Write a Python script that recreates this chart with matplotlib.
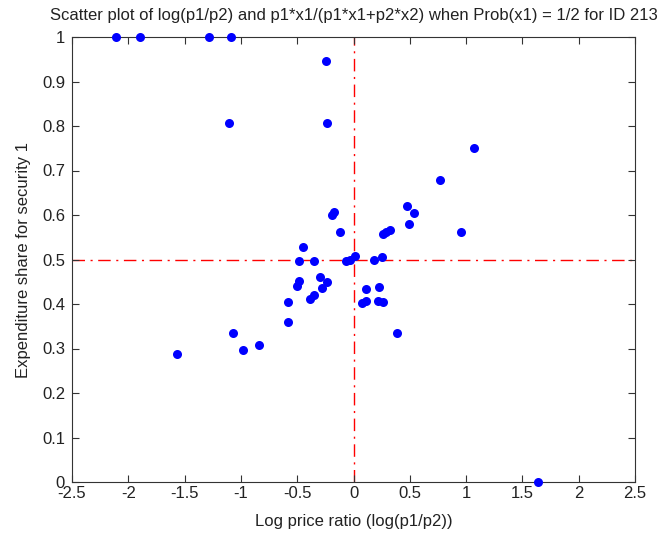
import matplotlib
matplotlib.use("Agg")
import matplotlib.pyplot as plt
import numpy as np

log_price_ratio = [
    -2.11, -1.90, -1.28, -1.09,
    -0.247, -1.11, -0.238,
    -0.19, -0.17, -0.123,
    -0.446, -0.481, -0.351,
    -0.07, -0.03, 0.01,
    0.185, 0.25,
    -0.487, -0.499,
    -0.297, -0.238, -0.282,
    -0.386, -0.348, -0.579,
    -0.579, -0.837,
    0.386,
    0.108, 0.224, 0.073, 0.111, 0.215, 0.259,
    0.765, 0.475, 0.535, 0.49, 0.957,
    0.26, 0.29, 0.32,
    1.07, 1.64,
    -1.567, -1.07, -0.98,
]
expenditure_share = [
    1.0, 1.0, 1.0, 1.0,
    0.945, 0.806, 0.806,
    0.600, 0.607, 0.562,
    0.527, 0.496, 0.496,
    0.497, 0.500, 0.508,
    0.498, 0.505,
    0.452, 0.440,
    0.460, 0.450, 0.435,
    0.411, 0.420, 0.404,
    0.359, 0.307,
    0.334,
    0.434, 0.439, 0.402, 0.407, 0.407, 0.404,
    0.679, 0.621, 0.604, 0.580, 0.562,
    0.557, 0.561, 0.566,
    0.750, 0.0,
    0.288, 0.335, 0.297,
]

x_ticks = [-2.5, -2, -1.5, -1, -0.5, 0, 0.5, 1, 1.5, 2, 2.5]
x_tick_labels = ["-2.5", "-2", "-1.5", "-1", "-0.5", "0", "0.5", "1", "1.5", "2", "2.5"]
y_ticks = [0, 0.1, 0.2, 0.3, 0.4, 0.5, 0.6, 0.7, 0.8, 0.9, 1]
y_tick_labels = ["0", "0.1", "0.2", "0.3", "0.4", "0.5", "0.6", "0.7", "0.8", "0.9", "1"]

plt.rcParams['font.family'] = ['Liberation Sans', 'DejaVu Sans']
plt.rcParams['axes.unicode_minus'] = False

fig = plt.figure(figsize=(6.63, 5.35), dpi=100)
ax = fig.add_axes([72/663, 1-482/535, (635-72)/663, (482-37)/535])

ax.axvline(0, color='red', linewidth=1.0, linestyle=(0, (9, 4, 1.5, 4)), zorder=1)
ax.axhline(0.5, color='red', linewidth=1.0, linestyle=(0, (9, 4, 1.5, 4)), zorder=1)
ax.plot(log_price_ratio, expenditure_share, 'o', color='#0000ff', markersize=6.5,
        markeredgewidth=0, clip_on=False, zorder=3)

ax.set_xlim(-2.5, 2.5)
ax.set_ylim(0, 1)
ax.set_xticks(x_ticks)
ax.set_xticklabels(x_tick_labels)
ax.set_yticks(y_ticks)
ax.set_yticklabels(y_tick_labels)
ax.tick_params(direction='in', top=True, right=True, length=5, width=0.8,
               labelsize=12, color='#333333', labelcolor='#222222')
ax.tick_params(axis='x', pad=3)
ax.tick_params(axis='y', pad=5)
for s in ax.spines.values():
    s.set_color('#333333')
    s.set_linewidth(0.8)

ax.set_xlabel("Log price ratio (log(p1/p2))", fontsize=12, color='#222222', labelpad=9)
ax.set_ylabel("Expenditure share for security 1", fontsize=12, color='#222222', labelpad=8)
ax.set_title("Scatter plot of log(p1/p2) and p1*x1/(p1*x1+p2*x2) when Prob(x1) = 1/2 for ID 213",
             fontsize=12, color='#222222', pad=12)

fig.savefig("out.png", dpi=100)
